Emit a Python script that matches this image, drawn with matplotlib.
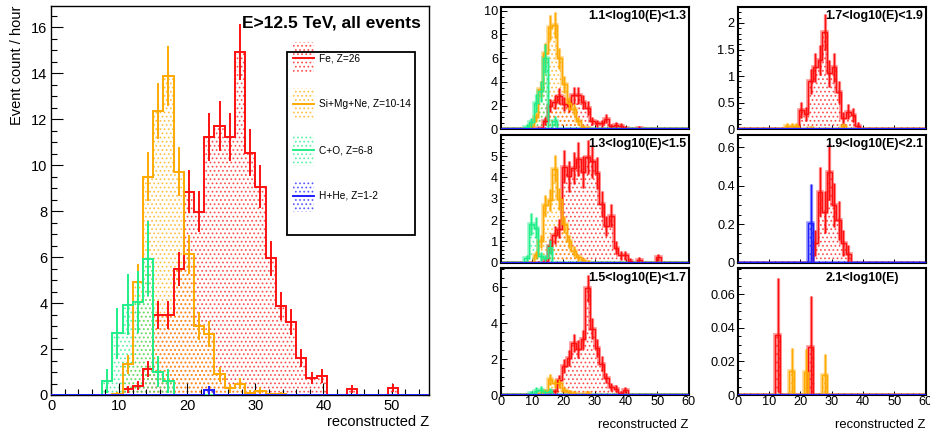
import numpy as np
import matplotlib
matplotlib.use('Agg')
import matplotlib.pyplot as plt
from matplotlib.ticker import MultipleLocator, FuncFormatter
from matplotlib.patches import Rectangle
from matplotlib.lines import Line2D
from matplotlib.colors import to_rgba

plt.rcParams['font.family'] = ['Liberation Sans', 'DejaVu Sans']
plt.rcParams['hatch.linewidth'] = 0.8

# ---------------- data ----------------
BIN_WIDTH = 1.5
SPECIES = ["Fe, Z=26", "Si+Mg+Ne, Z=10-14", "C+O, Z=6-8", "H+He, Z=1-2"]
MAIN_TITLE = "E>12.5 TeV, all events"
XLABEL = "reconstructed Z"
YLABEL = "Event count / hour"

# main panel, 37 bins of width 1.5 from 0
FE_ALL = [0, 0, 0, 0, 0, 0, 0, 0.25, 0.4, 1.13, 3.48, 3.48, 5.5, 8.85, 7.97, 11.23, 11.7, 11.23,
          14.92, 10.55, 9.07, 5.95, 3.87, 3.19, 1.6, 0.73, 0.83, 0, 0, 0.26, 0, 0, 0, 0.29, 0, 0, 0]
SI_ALL = [0, 0, 0, 0, 0, 0, 0.05, 1.33, 4.93, 9.5, 12.36, 13.88, 9.72, 6.12, 3.0, 2.64, 0.9, 0.29,
          0.5, 0.1, 0.19, 0.03, 0.05, 0, 0, 0, 0, 0, 0, 0, 0, 0, 0, 0, 0, 0, 0]
CO_ALL = [0, 0, 0, 0, 0, 0.6, 2.68, 3.92, 4.06, 5.92, 1.02, 0.6, 0, 0, 0, 0, 0, 0,
          0, 0, 0, 0, 0, 0, 0, 0, 0, 0, 0, 0, 0, 0, 0, 0, 0, 0, 0]
HHE_ALL = [0, 0, 0, 0, 0, 0, 0, 0, 0, 0, 0, 0, 0, 0, 0, 0.2, 0, 0,
           0, 0, 0, 0, 0, 0, 0, 0, 0, 0, 0, 0, 0, 0, 0, 0, 0, 0, 0]
# per-event weights (1/exposure) used for Poisson error bars, main panel
W_ALL = [0.10, 0.12, 0.45, 0.20]

# energy-binned panels, 40 bins of width 1.5 from 0
PANEL_TITLES = ["1.1<log10(E)<1.3", "1.3<log10(E)<1.5", "1.5<log10(E)<1.7",
                "1.7<log10(E)<1.9", "1.9<log10(E)<2.1", "2.1<log10(E)"]
P1_FE = [0, 0, 0, 0, 0, 0, 0, 0, 0.1, 0.7, 2.0, 2.3, 2.8, 2.1, 2.0, 2.85, 2.85, 2.3, 1.8, 0.7,
         0.5, 0.5, 0.9, 0.25, 0.35, 0.3, 0.15, 0, 0, 0.15, 0, 0, 0, 0, 0, 0, 0, 0, 0, 0]
P1_SI = [0, 0, 0, 0, 0, 0, 0.3, 1.0, 3.4, 6.4, 8.6, 8.8, 6.0, 3.8, 2.2, 1.7, 0.7, 0.2, 0.15, 0,
         0, 0, 0, 0, 0, 0, 0, 0, 0, 0, 0, 0, 0, 0, 0, 0, 0, 0, 0, 0]
P1_CO = [0, 0, 0, 0, 0, 0.2, 0.6, 2.2, 3.2, 6.0, 0, 0.7, 0, 0, 0, 0, 0, 0, 0, 0,
         0, 0, 0, 0, 0, 0, 0, 0, 0, 0, 0, 0, 0, 0, 0, 0, 0, 0, 0, 0]
P2_FE = [0, 0, 0, 0, 0, 0, 0, 0, 0, 0.1, 0.8, 1.3, 1.6, 4.5, 4.05, 4.45, 4.85, 4.25, 4.95, 4.75,
         4.2, 2.75, 1.7, 2.2, 0.7, 0.35, 0.35, 0.1, 0, 0.12, 0, 0, 0, 0.25, 0, 0, 0, 0, 0, 0]
P2_SI = [0, 0, 0, 0, 0, 0, 0, 0.35, 1.0, 2.7, 2.95, 4.4, 3.0, 1.8, 1.0, 0.55, 0.25, 0.12, 0.05, 0,
         0, 0, 0, 0, 0, 0, 0, 0, 0, 0, 0, 0, 0, 0, 0, 0, 0, 0, 0, 0]
P2_CO = [0, 0, 0, 0, 0, 0.2, 1.8, 1.65, 0.3, 0.2, 0.75, 0, 0, 0, 0, 0, 0, 0, 0, 0,
         0, 0, 0, 0, 0, 0, 0, 0, 0, 0, 0, 0, 0, 0, 0, 0, 0, 0, 0, 0]
P3_FE = [0, 0, 0, 0, 0, 0, 0, 0, 0, 0, 0.05, 0.2, 0.85, 1.6, 2.05, 2.9, 2.55, 3.1, 5.95, 3.7,
         2.6, 1.75, 0.95, 0.45, 0.35, 0.12, 0.28, 0, 0, 0, 0, 0, 0, 0, 0, 0, 0, 0, 0, 0]
P3_SI = [0, 0, 0, 0, 0, 0, 0, 0, 0.1, 0.2, 0.87, 0.65, 0.65, 0.3, 0.15, 0.1, 0.05, 0.05, 0.1, 0,
         0, 0, 0, 0, 0, 0, 0, 0, 0, 0, 0, 0, 0, 0, 0, 0, 0, 0, 0, 0]
P3_CO = [0, 0, 0, 0, 0, 0, 0.1, 0.25, 0.3, 0.15, 0.2, 0, 0, 0, 0, 0, 0, 0, 0, 0,
         0, 0, 0, 0, 0, 0, 0, 0, 0, 0, 0, 0, 0, 0, 0, 0, 0, 0, 0, 0]
P4_FE = [0, 0, 0, 0, 0, 0, 0, 0, 0, 0, 0, 0, 0, 0.37, 0.29, 0.9, 1.17, 1.3, 1.83, 1.05,
         1.17, 0.7, 0.21, 0.33, 0.27, 0.07, 0, 0, 0, 0, 0, 0, 0, 0, 0, 0, 0, 0, 0, 0]
P4_SI = [0, 0, 0, 0, 0, 0, 0, 0, 0, 0, 0.07, 0.07, 0.07, 0, 0, 0.03, 0, 0, 0, 0,
         0, 0, 0.07, 0, 0, 0, 0, 0, 0, 0, 0, 0, 0, 0, 0, 0, 0, 0, 0, 0]
P5_FE = [0, 0, 0, 0, 0, 0, 0, 0, 0, 0, 0, 0, 0, 0, 0, 0, 0.104, 0.37, 0.265, 0.47,
         0.30, 0.22, 0.104, 0.045, 0, 0, 0, 0, 0, 0, 0, 0, 0, 0, 0, 0, 0, 0, 0, 0]
P5_HHE = [0, 0, 0, 0, 0, 0, 0, 0, 0, 0, 0, 0, 0, 0, 0, 0.205, 0, 0, 0, 0,
          0, 0, 0, 0, 0, 0, 0, 0, 0, 0, 0, 0, 0, 0, 0, 0, 0, 0, 0, 0]
P6_FE = [0, 0, 0, 0, 0, 0, 0, 0, 0.0358, 0, 0, 0, 0, 0, 0, 0.0288, 0, 0, 0, 0,
         0, 0, 0, 0, 0, 0, 0, 0, 0, 0, 0, 0, 0, 0, 0, 0, 0, 0, 0, 0]
P6_SI = [0, 0, 0, 0, 0, 0, 0, 0, 0, 0, 0, 0.0143, 0, 0, 0.0139, 0, 0, 0, 0.0119, 0,
         0, 0, 0, 0, 0, 0, 0, 0, 0, 0, 0, 0, 0, 0, 0, 0, 0, 0, 0, 0]
# per-event weights for the error bars of each panel: (Fe, Si, CO, HHe)
P_WEIGHTS = [(0.17, 0.13, 0.25, 0.2), (0.13, 0.09, 0.15, 0.2), (0.095, 0.10, 0.16, 0.2),
             (0.063, 0.04, 0.1, 0.2), (0.045, 0.04, 0.1, 0.205), (0.032, 0.0135, 0.1, 0.1)]
PANELS = [(P1_FE, P1_SI, P1_CO, None), (P2_FE, P2_SI, P2_CO, None), (P3_FE, P3_SI, P3_CO, None),
          (P4_FE, P4_SI, None, None), (P5_FE, None, None, P5_HHE), (P6_FE, P6_SI, None, None)]
PANEL_YMAX = [10.31, 5.99, 7.06, 2.3, 0.664, 0.0755]
PANEL_YMAJOR = [2, 1, 2, 0.5, 0.2, 0.02]
PANEL_YMINOR = [0.5, 0.2, 0.5, 0.1, 0.05, 0.005]

COLORS = ['#ff1010', '#ffaa00', '#20ee88', '#2020ff']
HATCH = '....'

W, H = 930, 432
fig = plt.figure(figsize=(W / 100, H / 100), dpi=100)


def px_axes(x0, y0, x1, y1):
    return fig.add_axes([x0 / W, 1 - y1 / H, (x1 - x0) / W, (y1 - y0) / H])


def dots(col):
    return to_rgba(col, 0.65)


def draw_hist(ax, vals, color, w, lw, band=False):
    vals = np.asarray(vals, dtype=float)
    edges = np.arange(len(vals) + 1) * BIN_WIDTH
    ax.stairs(vals, edges, fill=True, facecolor='none', edgecolor=dots(color),
              hatch=HATCH, linewidth=0, zorder=1)
    if band:
        ax.stairs(vals, edges, color=color, lw=lw * 2.6, alpha=0.45, zorder=2)
    ax.stairs(vals, edges, color=color, lw=lw, zorder=3)
    centers = (edges[:-1] + edges[1:]) / 2
    nz = vals > 0
    err = np.sqrt(vals * w)
    if band:
        ax.vlines(centers[nz], vals[nz] - err[nz], vals[nz] + err[nz], color=color,
                  lw=lw * 2.4, alpha=0.45, zorder=2)
    ax.vlines(centers[nz], vals[nz] - err[nz], vals[nz] + err[nz], color=color, lw=lw, zorder=3)


fmt = FuncFormatter(lambda v, p: '%g' % round(v, 6))

# ---------------- main panel ----------------
ax = px_axes(51, 5.7, 429, 395)
for vals, col, w in zip([FE_ALL, SI_ALL, CO_ALL, HHE_ALL], COLORS, W_ALL):
    draw_hist(ax, vals, col, w, lw=1.4)
ax.set_xlim(0, len(FE_ALL) * BIN_WIDTH)
ax.set_ylim(0, 16.94)
ax.xaxis.set_major_locator(MultipleLocator(10))
ax.xaxis.set_minor_locator(MultipleLocator(2))
ax.yaxis.set_major_locator(MultipleLocator(2))
ax.yaxis.set_minor_locator(MultipleLocator(0.5))
ax.tick_params(which='both', direction='in', top=False, right=False, labelsize=10.5)
ax.tick_params(which='major', length=8.3, width=0.8)
ax.tick_params(which='minor', length=4.2, width=0.8)
ax.tick_params(axis='x', pad=3)
ax.tick_params(axis='y', pad=2.5)
for s in ax.spines.values():
    s.set_linewidth(1.0)
ax.set_xlabel(XLABEL, fontsize=10.5, loc='right', labelpad=1)
ax.set_ylabel(YLABEL, fontsize=10.5, loc='top', labelpad=5)
ax.text(0.978, 0.9435, MAIN_TITLE, transform=ax.transAxes, ha='right', va='baseline',
        fontsize=12.5, fontweight='bold')

# legend
lx0, lx1, ly0, ly1 = 0.625, 0.963, 0.411, 0.882
ax.add_patch(Rectangle((lx0, ly0), lx1 - lx0, ly1 - ly0, transform=ax.transAxes,
                       facecolor='white', edgecolor='black', lw=1.3, zorder=10))
for k, (lab, col) in enumerate(zip(SPECIES, COLORS)):
    yc = 0.8653 - k * 0.1180
    ax.add_patch(Rectangle((0.6393, yc - 0.0416), 0.0571, 0.0832, transform=ax.transAxes,
                           facecolor='none', edgecolor=dots(col), hatch=HATCH, lw=0, zorder=11))
    ax.add_line(Line2D([0.6393, 0.6964], [yc, yc], transform=ax.transAxes, color=col,
                       lw=1.4, zorder=12))
    ax.text(0.7098, yc, lab, transform=ax.transAxes, ha='left', va='center',
            fontsize=7.3, zorder=12)

# ---------------- energy panels ----------------
cols_px = [(500.7, 688.7), (737.7, 925.7)]
rows_px = [(7.0, 129.3), (135.0, 262.7), (268.3, 395.0)]
for idx in range(6):
    c, r = idx // 3, idx % 3
    x0, x1 = cols_px[c]
    y0, y1 = rows_px[r]
    a = px_axes(x0, y0, x1, y1)
    weights = P_WEIGHTS[idx]
    for vals, col, w in zip(PANELS[idx], COLORS, weights):
        if vals is not None:
            draw_hist(a, vals, col, w, lw=1.0, band=True)
    # zero baseline drawn by the last histogram (blue) in ROOT
    a.axhline(0, color=COLORS[3], lw=1.6, zorder=4)
    a.set_xlim(0, 60)
    a.set_ylim(0, PANEL_YMAX[idx])
    a.xaxis.set_major_locator(MultipleLocator(10))
    a.xaxis.set_minor_locator(MultipleLocator(2))
    a.yaxis.set_major_locator(MultipleLocator(PANEL_YMAJOR[idx]))
    a.yaxis.set_minor_locator(MultipleLocator(PANEL_YMINOR[idx]))
    a.yaxis.set_major_formatter(fmt)
    a.tick_params(which='both', direction='in', top=False, right=False, labelsize=9.2, width=0.7)
    a.tick_params(axis='x', which='major', length=3.0, pad=1.0)
    a.tick_params(axis='x', which='minor', length=1.6)
    a.tick_params(axis='y', which='major', length=4.0, pad=2)
    a.tick_params(axis='y', which='minor', length=2.0)
    if r < 2:
        a.tick_params(axis='x', labelbottom=False)
    else:
        a.xaxis.set_major_formatter(fmt)
        a.set_xlabel(XLABEL, fontsize=9.4, loc='right', labelpad=8)
    for s in a.spines.values():
        s.set_linewidth(1.5)
    a.text(0.467, 1 - 9.5 / (y1 - y0), PANEL_TITLES[idx], transform=a.transAxes,
           ha='left', va='center', fontsize=8.9, fontweight='bold', zorder=12)

fig.savefig('out.png', dpi=100)
